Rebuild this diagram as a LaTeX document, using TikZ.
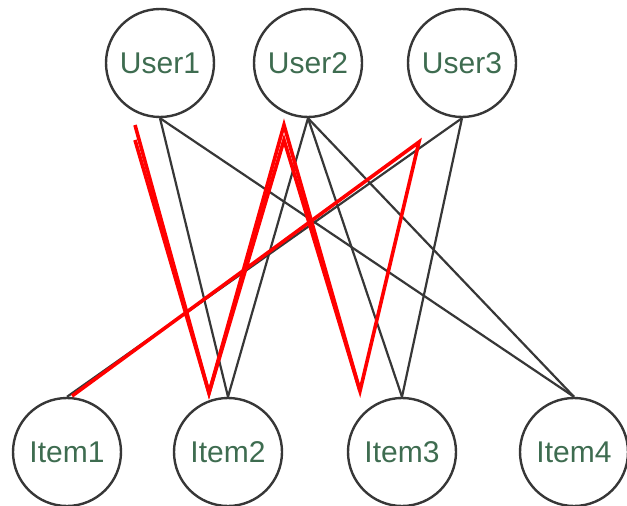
\documentclass[tikz,border=0pt]{standalone}
\usepackage{fontspec}
\setmainfont{Liberation Sans}
\usepackage{xcolor}
\usetikzlibrary{positioning}

\definecolor{labelgreen}{RGB}{62,108,80}
\definecolor{edgegray}{RGB}{55,55,55}

\begin{document}
\begin{tikzpicture}[
    x=1pt, y=-1pt,
    font=\fontsize{30}{33}\selectfont,
    every node/.style={align=center},
    vertex/.style={draw=edgegray, circle, line width=2.4pt, minimum size=108pt,
                   inner sep=0pt, text=labelgreen},
    link/.style={draw=edgegray, line width=2.2pt},
    redline/.style={draw=red, line width=3.6pt, line join=miter},
]
\useasboundingbox (0,0) rectangle (627,506);

% Users (top row)
\node[vertex] (user1) at (160,63)  {User1};
\node[vertex] (user2) at (308,63)  {User2};
\node[vertex] (user3) at (462,63)  {User3};

% Items (bottom row)
\node[vertex] (item1) at (67,452)  {Item1};
\node[vertex] (item2) at (228,452) {Item2};
\node[vertex] (item3) at (402,452) {Item3};
\node[vertex] (item4) at (574,452) {Item4};

% Rating edges
\draw[link] (user1.south) -- (item2.north);
\draw[link] (user1.south) -- (item4.north);
\draw[link] (user2.south) -- (item2.north);
\draw[link] (user2.south) -- (item3.north);
\draw[link] (user2.south) -- (item4.north);
\draw[link] (user3.south) -- (item1.north);
\draw[link] (user3.south) -- (item3.north);

% Red zigzag marks
\coordinate (a1) at (135,125);
\coordinate (a2) at (135,140);
\coordinate (v1) at (209,393);
\coordinate (p1) at (284,125);
\coordinate (p2) at (284,140);
\coordinate (v2) at (360,391);
\coordinate (p3) at (419,142);
\coordinate (e1) at (72,396);

\draw[redline] (a1) -- (v1) -- (p1) -- (v2);
\draw[redline] (a2) -- (v1) -- (p2) -- (v2) -- (p3) -- (e1);

\end{tikzpicture}
\end{document}
